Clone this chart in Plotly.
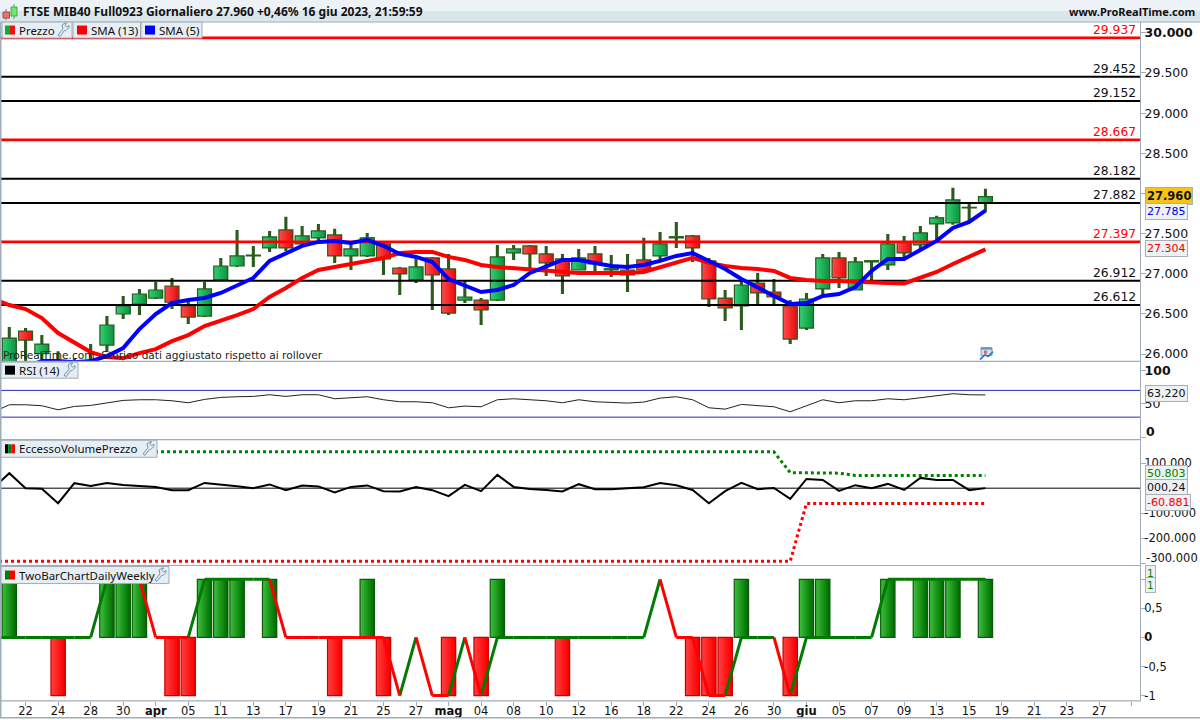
import plotly.graph_objects as go

# ---- data ----
open_ = [25870,26287,26005,25800,25800,25800,26112,26499,26624,26698,26848,26599,26474,26923,27097,27222,27322,27546,27372,27447,27484,27222,27222,27372,27072,26923,27197,27060,26673,26673,26673,27259,27347,27247,27185,27047,27247,27047,27047,27172,27222,27447,27471,27160,26698,26599,26885,26773,26599,26324,26811,27197,26798,27147,27110,27397,27359,27621,27634,27821,27883]
high = [26337,26324,26237,26037,25950,26125,26474,26723,26811,26898,26948,26673,26898,27197,27546,27347,27534,27709,27596,27621,27559,27409,27509,27409,27085,27222,27210,27247,26910,26698,27359,27359,27359,27347,27247,27309,27347,27235,27247,27447,27521,27646,27484,27197,26798,26910,27010,26935,26673,26761,27247,27272,27210,27172,27496,27471,27596,27721,28070,27870,28058]
low = [25850,25860,25890,25780,25780,25780,26025,26436,26486,26686,26561,26374,26461,26923,27085,27085,27272,27284,27347,27422,27135,27047,27210,26985,26736,26885,26549,26486,26636,26362,26661,27172,27072,26973,26748,27047,27023,26960,26773,27010,27172,27322,27147,26586,26412,26299,26624,26624,26125,26299,26736,26823,26798,26910,27047,27197,27309,27409,27609,27659,27771]
close = [26200,26175,26125,25880,25880,25880,26362,26599,26748,26798,26648,26461,26811,27097,27222,27232,27459,27322,27471,27534,27222,27309,27447,27185,26998,27085,26985,26511,26711,26549,27210,27309,27247,27135,26973,27197,27122,27060,26985,27047,27372,27460,27322,26686,26574,26860,26761,26711,26187,26686,27197,26948,27147,27160,27372,27259,27509,27696,27920,27827,27960]

# lines start one session before the first candle, which falls left of the frame
sma13 = [26686,26611,26561,26449,26262,26137,26025,25963,25950,26012,26062,26162,26237,26349,26412,26486,26561,26711,26823,26948,27047,27085,27122,27160,27197,27259,27272,27272,27210,27172,27110,27085,27072,27060,27047,27023,27010,27010,27010,27010,27023,27085,27135,27197,27135,27097,27072,27060,27035,26948,26923,26910,26910,26898,26885,26885,26880,26948,27023,27122,27210,27304]
sma5 = [25700,25760,25840,25913,25913,25900,25913,25975,26075,26312,26499,26636,26673,26698,26761,26848,26948,27160,27247,27347,27397,27409,27384,27422,27347,27247,27210,27147,26935,26860,26773,26798,26860,27010,27097,27172,27172,27135,27097,27085,27110,27160,27222,27259,27160,27060,26935,26823,26723,26624,26636,26723,26748,26835,27035,27185,27185,27297,27409,27571,27646,27785]
rsi = [37.5,48.5,48.5,47,41,46,47.5,51.5,55,56,56,54.5,51.5,56.5,59.5,60.5,61,63.5,61,63.5,63.5,57.5,59,60.5,56,53,53,51.5,44,46.5,45.5,56,57.5,56,54.5,51.5,56,53,52,51,52.5,58.5,60.5,56,44,42,49,47,45.5,38,47,56,51.5,54.5,54.5,57.5,56,59,62,65,63.5,63.22]
evp = [0,60000,0,-2700,-60000,20000,9000,21000,13000,8000,5000,-8000,-8000,21000,16000,8000,0,15000,-8000,11000,7000,-17000,5000,11000,-12000,-13000,5000,-8000,-32000,13000,-12000,53000,5000,-3000,-7000,-13000,16000,-4000,-4000,0,4000,21000,12000,-7000,-60000,-12000,21000,-4000,1000,-43000,37000,33000,-11000,12000,0,17000,-7000,41000,33000,33000,-8000,240]
evp_upper = [145000]*49 + [62000,62000,62000,60000] + [50803]*9
evp_lower = [-292000]*50 + [-60881]*12
two_bar = [1,0,0,-1,0,0,1,1,1,0,-1,-1,1,1,1,0,1,0,0,0,-1,0,1,-1,0,0,0,-1,0,-1,1,0,0,0,-1,0,0,0,0,0,0,0,-1,-1,-1,1,0,0,-1,1,1,0,0,0,1,0,1,1,1,0,1]
two_line = [0,0,0,0,0,0,0,1,1,1,0,0,0,1,1,1,1,1,0,0,0,0,0,0,0,-1,0,-1,-1,0,-1,0,0,0,0,0,0,0,0,0,0,1,0,0,-1,-1,0,0,0,-1,0,0,0,0,0,1,1,1,1,1,1,1]
two_red_segments = [(8,9),(9,10),(10,11),(16,17),(17,18),(18,19),(19,20),(20,21),(21,22),(22,23),(23,24),(25,26),(26,27),(28,29),(40,41),(41,42),(42,43),(43,44),(47,48)]

levels_black = [29452,29152,28182,27882,26912,26612]
levels_red = [29937,28667,27397]
level_names = {29937:"29.937",29452:"29.452",29152:"29.152",28667:"28.667",28182:"28.182",27882:"27.882",27397:"27.397",26912:"26.912",26612:"26.612"}

date_labels = ["22","24","28","30","<b>apr</b>","05","11","13","17","19","21","25","27","<b>mag</b>","04","08","10","12","16","18","22","24","26","30","<b>giu</b>","05","07","09","13","15","19","21","23","27",""]
price_ticks = [26000,26500,27000,27500,28000,28500,29000,29500,30000]
price_labels = ["26.000","26.500","27.000","27.500","","28.500","29.000","29.500","<b>30.000</b>"]

FONT = "DejaVu Sans"
NARROW = "Noto Sans"
N = len(close)
idx = list(range(N))
idx_line = list(range(-1, N))
W, H = 1200, 720
K = 1.0018
px = lambda x: x / W
py = lambda y: 1 - y * K / H
INK = "#111111"
EDGE = "#a0adb6"
TAB = "#e6eef3"

def dom(y_top, y_bot):
    return [py(y_bot), py(y_top)]

def mix(a, b, t):
    return "rgb(%d,%d,%d)" % tuple(round(a[j] + (b[j] - a[j]) * t) for j in range(3))

def gradient_bars(fig, x, base, height, up, width, yaxis, up_cols, dn_cols, edge_up, edge_dn, edge_w, strips=7):
    # each strip runs to the right edge and is painted over by the next, so no seams show
    for k in range(strips):
        t = k / (strips - 1)
        cu, cd = mix(*up_cols, t), mix(*dn_cols, t)
        step = width / strips
        fig.add_trace(go.Bar(x=x, y=height, base=base, width=width - k * step,
                             offset=-width / 2 + k * step,
                             marker=dict(color=[cu if u else cd for u in up], line_width=0),
                             yaxis=yaxis, hoverinfo="skip", showlegend=False))
    fig.add_trace(go.Bar(x=x, y=height, base=base, width=width,
                         marker=dict(color="rgba(0,0,0,0)",
                                     line=dict(color=[edge_up if u else edge_dn for u in up], width=edge_w)),
                         yaxis=yaxis, hoverinfo="skip", showlegend=False))

def line(fig, x, y, color, width, yaxis="y", dash=None):
    fig.add_trace(go.Scatter(x=x, y=y, mode="lines", connectgaps=False,
                             line=dict(color=color, width=width, dash=dash),
                             yaxis=yaxis, hoverinfo="skip", showlegend=False))

fig = go.Figure()

# --- price pane ---
fig.add_trace(go.Bar(x=idx, y=[h - l for h, l in zip(high, low)], base=low, width=0.19,
                     marker=dict(color="#2b5a1c", line_width=0), yaxis="y", hoverinfo="skip", showlegend=False))
up = [c >= o for o, c in zip(open_, close)]
gradient_bars(fig, idx, [min(o, c) for o, c in zip(open_, close)],
              [abs(c - o) for o, c in zip(open_, close)], up, 0.86, "y",
              ((46, 204, 113), (16, 150, 64)), ((255, 70, 70), (235, 15, 15)),
              "#2b5a1c", "#2b5a1c", 1.2)
for lv in levels_black:
    line(fig, [-1, 71], [lv, lv], "#000000", 2)
for lv in levels_red:
    line(fig, [-1, 71], [lv, lv], "#ff0000", 2.6)
line(fig, idx_line, sma13, "#ff0000", 4)
line(fig, idx_line, sma5, "#0000ff", 4)

# --- RSI pane ---
for lv in (70, 30):
    line(fig, [-1, 71], [lv, lv], "#2a2acb", 1, "y2")
line(fig, idx_line, rsi, "#222222", 1, "y2")

# --- volume/price excess pane ---
line(fig, [-1, 71], [0, 0], "#000000", 1, "y3")
line(fig, idx_line, evp_upper, "#008000", 3, "y3", "3px,3px")
line(fig, idx_line, evp_lower, "#ff0000", 3, "y3", "3px,3px")
line(fig, idx_line, evp, "#000000", 2, "y3")

# --- two-bar pane ---
tb_x = [i for i, v in zip(idx, two_bar) if v != 0]
tb_v = [v for v in two_bar if v != 0]
gradient_bars(fig, tb_x, [0] * len(tb_x), tb_v, [v > 0 for v in tb_v], 0.88, "y4",
              ((56, 186, 56), (0, 112, 0)), ((255, 60, 60), (250, 0, 0)),
              "#0a5a0a", "#c80000", 1.2)
seg_red_x, seg_red_y, seg_grn_x, seg_grn_y = [], [], [], []
for j in range(len(two_line) - 1):
    a, b = idx_line[j], idx_line[j + 1]
    if (a, b) in two_red_segments:
        seg_red_x += [a, b, None]
        seg_red_y += [two_line[j], two_line[j + 1], None]
    else:
        seg_grn_x += [a, b, None]
        seg_grn_y += [two_line[j], two_line[j + 1], None]
line(fig, seg_grn_x, seg_grn_y, "#007a00", 3, "y4")
line(fig, seg_red_x, seg_red_y, "#ff0000", 3, "y4")

shapes, ann = [], []

def rect(x0, y0, x1, y1, fill, edge=None, lw=0):
    shapes.append(dict(type="rect", xref="paper", yref="paper", x0=px(x0), x1=px(x1), y0=py(y1), y1=py(y0),
                       fillcolor=fill, line=dict(color=edge or fill, width=lw), layer="above"))

def seg(x0, y0, x1, y1, color, lw=1):
    shapes.append(dict(type="line", xref="paper", yref="paper", x0=px(x0), x1=px(x1), y0=py(y0), y1=py(y1),
                       line=dict(color=color, width=lw), layer="above"))

def text(x, y, s, size=12, color=INK, anchor="left", bold=False, fill=None, edge=None, family=FONT):
    ann.append(dict(xref="paper", yref="paper", x=px(x), y=py(y), text="<b>%s</b>" % s if bold else s,
                    showarrow=False, xanchor=anchor, yanchor="middle",
                    font=dict(family=family, size=size, color=color),
                    bgcolor=fill, bordercolor=edge, borderwidth=1 if edge else 0, borderpad=1))

def wrench(x, y):
    pts = [(1, 12), (6, 6), (5, 2), (8, 0), (9.5, 0), (8, 2.5), (9.5, 4), (12, 2.5), (12, 4.5), (9, 7.5), (7.5, 7.5), (3, 13.5)]
    d = "M " + " L ".join("%.5f,%.5f" % (px(x + a), py(y + b)) for a, b in pts) + " Z"
    shapes.append(dict(type="path", xref="paper", yref="paper", path=d, fillcolor="rgba(0,0,0,0)",
                       line=dict(color="#6f94b5", width=1), layer="above"))

def tab(x0, y0, x1, y1, label, swatch, with_wrench=True, tx=18, sx=5):
    rect(x0, y0, x1, y1, TAB, EDGE, 1)
    cy = (y0 + y1) / 2
    w = 10 / len(swatch)
    for k, c in enumerate(swatch):
        rect(sx + k * w, cy - 4.5, sx + (k + 1) * w, cy + 4.5, c)
    text(tx, cy, label, size=11.5, family=NARROW)
    if with_wrench:
        wrench(x1 - 15, cy - 7)

# header
rect(0, 0, 1200, 11, "#ecf2f6")
rect(0, 11, 1200, 22, "#dbe6ec")
seg(0, 22, 1200, 22, EDGE, 1)
seg(6, 9, 6, 20, "#777777", 1); rect(3, 12, 9.5, 18, "#f07070", "#a05050", 1)
seg(14, 4, 14, 19, "#55aa55", 1); rect(11, 7, 17, 16, "#70e870", "#50a050", 1)
text(22, 11, "FTSE MIB40 Full0923 Giornaliero 27.960 +0,46% 16 giu 2023, 21:59:59", size=12, bold=True, family=NARROW)
text(1196, 11, "www.ProRealTime.com", size=11, bold=True, anchor="right", family=NARROW)

# frames
seg(0.5, 22, 0.5, 717, EDGE, 2)
seg(1140.5, 22, 1140.5, 700, EDGE, 1)
for y in (360.8, 438.8, 564.5, 699.7):
    seg(0, y, 1140, y, EDGE, 1.2)
seg(0, 716.5, 1200, 716.5, EDGE, 1.5)

# pane tabs
tab(2, 22, 72, 38, "Prezzo", ["#11aa33", "#ee1111"])
tab(73, 22, 140.5, 38, "SMA (13)", ["#ff0000"], with_wrench=False, tx=90, sx=77)
tab(141, 22, 202, 38, "SMA (5)", ["#0000ff"], with_wrench=False, tx=158, sx=145)
tab(1, 361.5, 78, 377.5, "RSI (14)", ["#000000"])
tab(1, 439.5, 157, 456.5, "EccessoVolumePrezzo", ["#000000", "#008000", "#ff0000"])
tab(1, 565.5, 169, 582.5, "TwoBarChartDailyWeekly", ["#008000", "#ff0000"])

# price notes
text(2, 354, "ProRealTime.com  Storico dati aggiustato rispetto ai rollover", size=10.6, color="#222222")
for lv, name in level_names.items():
    ann.append(dict(xref="paper", yref="y", x=px(1138), y=lv, yanchor="bottom", xanchor="right", showarrow=False,
                    yshift=-1, text=name, font=dict(family=FONT, size=12.3, color="#ff0000" if lv in levels_red else INK)))
# calendar glyph
rect(981, 347, 992, 355, "#cfe0ee", "#6fa0c8", 1)
rect(981, 347, 992, 349, "#5f9ac8")
rect(984, 350, 987, 353, "#f05a5a")
seg(980, 359, 985, 354, "#2a6fd0", 1.5); seg(985, 354, 988, 356, "#2a6fd0", 1.5); seg(988, 356, 993, 351, "#2a6fd0", 1.5)

# value flags on the right edge
text(1145, 195.5, "27.960", size=11.5, bold=True, fill="#f6c419", edge="#a9b0b5")
text(1145, 211, "27.785", size=11, color="#0000ee", fill="#eef1f3", edge="#a9b0b5")
text(1145, 248, "27.304", size=11, color="#ee0000", fill="#eef1f3", edge="#a9b0b5")
text(1145, 392.5, "63,220", size=11, fill="#eef1f3", edge="#a9b0b5")
text(1145, 472.5, "50.803", size=11, color="#008000", fill="#eef1f3", edge="#a9b0b5")
text(1145, 486.5, "000,24", size=11, fill="#eef1f3", edge="#a9b0b5")
text(1145, 501.5, "-60.881", size=11, color="#ee0000", fill="#eef1f3", edge="#a9b0b5")
text(1145, 572, "1", size=10.5, color="#008000", fill="#eef1f3", edge="#a9b0b5")
text(1145, 584, "1", size=10.5, color="#008000", fill="#eef1f3", edge="#a9b0b5")
text(1145, 430.5, "0", size=12.5, bold=True)
text(1145, 557, "-300.000", size=11.5)

axis_y = dict(side="right", anchor="x", ticks="outside", ticklen=5, tickcolor=EDGE, showgrid=False, zeroline=False,
              showline=False, ticklabelstandoff=-4, tickfont=dict(family=FONT, size=12, color=INK))

fig.update_layout(
    width=W, height=H, margin=dict(l=0, r=0, t=0, b=0), paper_bgcolor="white", plot_bgcolor="white",
    barmode="overlay", showlegend=False, shapes=shapes, annotations=ann, hovermode=False,
    xaxis=dict(domain=[px(1), px(1140)], range=[-0.51, 69.5], anchor="y4",
               tickvals=list(range(1, 70, 2)), ticktext=date_labels, ticks="outside", ticklen=4, tickcolor=EDGE,
               ticklabelstandoff=-5,
               showgrid=False, zeroline=False, tickangle=0, tickfont=dict(family=FONT, size=11.5, color=INK)),
    yaxis=dict(axis_y, domain=dom(22, 361), range=[25906, 30134], tickvals=price_ticks, ticktext=price_labels,
               tickfont=dict(family=FONT, size=12.5, color=INK)),
    yaxis2=dict(axis_y, domain=dom(362, 439), range=[-3.9, 111.5], tickvals=[0, 50, 100],
                ticktext=["", "50", "<b>100</b>"], tickfont=dict(family=FONT, size=12.5, color=INK)),
    yaxis3=dict(axis_y, domain=dom(440, 565), range=[-310800, 189200],
                tickvals=[-300000, -200000, -100000, 100000],
                ticktext=["", "-200.000", "-100.000", "100.000"], tickfont=dict(family=FONT, size=11.5, color=INK)),
    yaxis4=dict(axis_y, domain=dom(566, 700), range=[-1.098, 1.212], tickvals=[-1, -0.5, 0, 0.5, 1],
                ticktext=["-1", "-0,5", "<b>0</b>", "0,5", ""], tickfont=dict(family=FONT, size=11.5, color=INK)),
)

fig.write_html("out.html", config=dict(displayModeBar=False),
               post_script="document.body.style.margin='0';document.body.style.overflow='hidden';")
